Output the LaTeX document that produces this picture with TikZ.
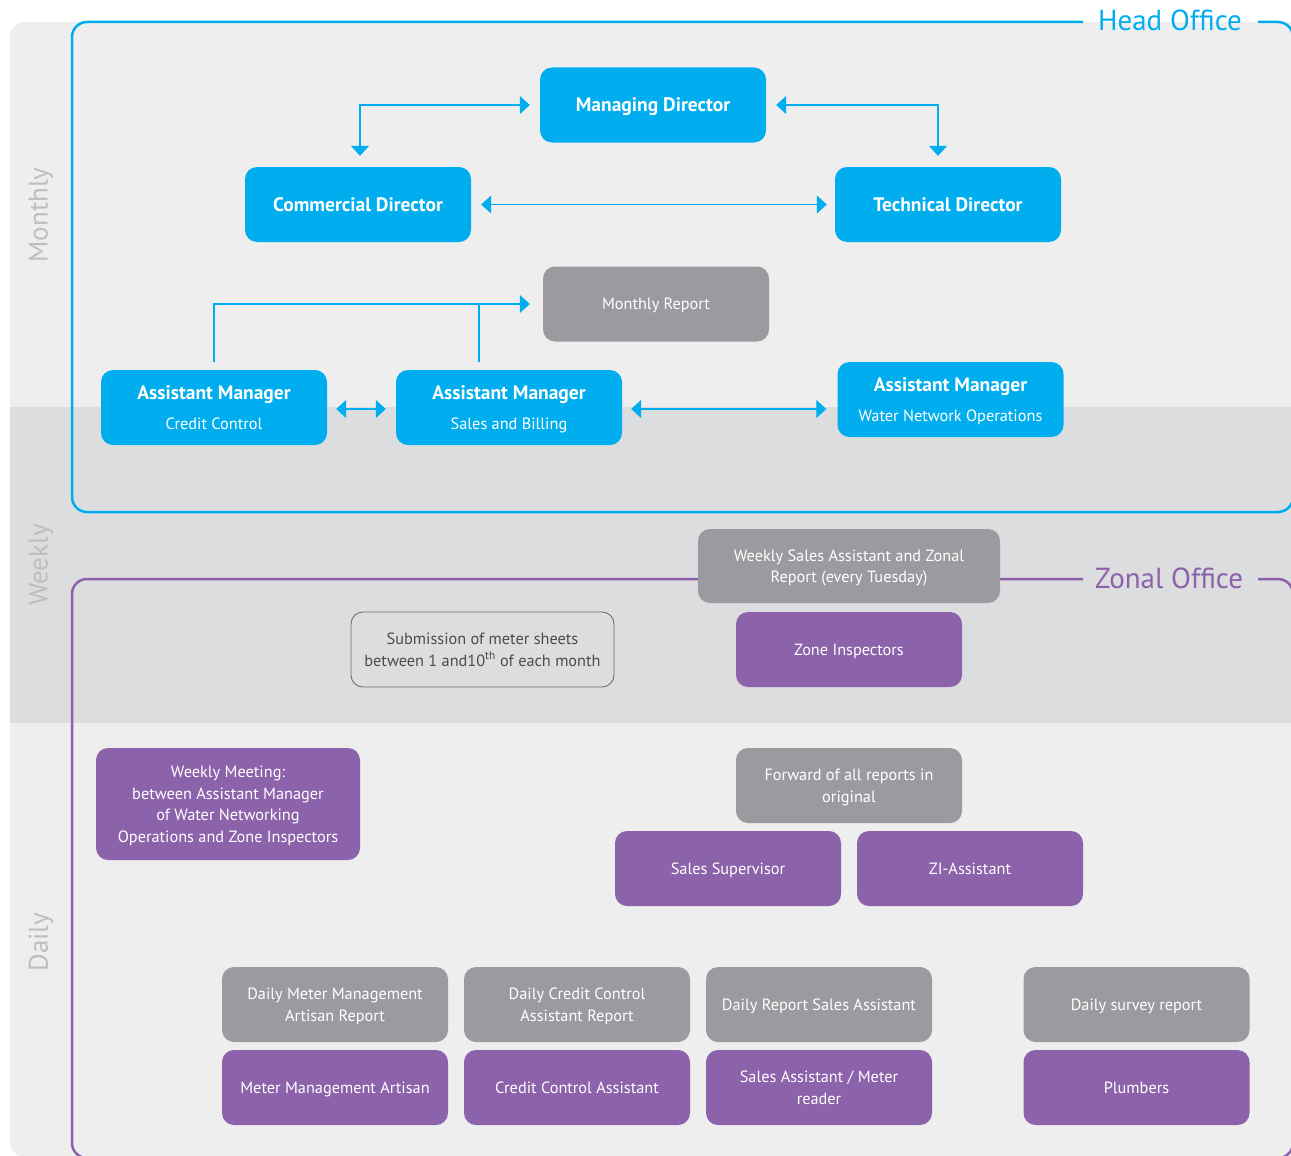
\documentclass[tikz,border=0pt]{standalone}
\usepackage{fontspec}
\setmainfont{PT Sans}
\usetikzlibrary{arrows.meta}
\definecolor{hoblue}{HTML}{00AEEF}
\definecolor{zopurple}{HTML}{8C62AA}
\definecolor{repgray}{HTML}{9A9B9F}
\definecolor{bgA}{HTML}{EEEEEE}
\definecolor{bgB}{HTML}{DCDDDF}
\definecolor{lblgray}{HTML}{BDBEC0}
\definecolor{subline}{HTML}{6D6E71}
\definecolor{subtext}{HTML}{4D4D4F}
\tikzset{
  box/.style={rounded corners=12pt, minimum width=226pt, minimum height=75pt, align=center, inner sep=2pt,
    text depth=-3pt, font=\fontsize{16.3}{21.5}\selectfont, text=white},
  bluebox/.style={box, fill=hoblue, font=\fontsize{19.5}{22}\selectfont\bfseries},
  ambox/.style={box, fill=hoblue},
  purplebox/.style={box, fill=zopurple},
  graybox/.style={box, fill=repgray},
  outlinebox/.style={box, draw=subline, line width=0.9pt, text=subtext},
  conn/.style={draw=hoblue, line width=1.2pt},
  tipA/.tip={Triangle[length=10pt,width=18pt]},
  frame/.style={line width=2.5pt, rounded corners=15pt},
  period/.style={rotate=90, text=lblgray, font=\fontsize{27}{28}\selectfont},
  office/.style={font=\fontsize{29}{30}\selectfont}
}
\newcommand{\amtitle}[1]{{\fontsize{19.5}{22}\selectfont\bfseries #1}}
\begin{document}
\begin{tikzpicture}[x=1pt,y=-1pt]
\useasboundingbox (0,0) rectangle (1291,1156);
\clip (0,0) rectangle (1291,1156);
% background bands
\fill[bgA, rounded corners=15pt] (10,22) rectangle (1320,1157);
\fill[bgB] (10,407) rectangle (1291,723);
% period labels
\node[period] (lmonthly) at (41,215) {Monthly};
\node[period] (lweekly) at (41,565) {Weekly};
\node[period] (ldaily) at (41,942) {Daily};
% frames
\draw[frame, draw=hoblue] (1083,22) -- (72,22) -- (72,512) -- (1293,512) -- (1293,22) -- (1258,22);
\node[office, text=hoblue] (headoffice) at (1170,20) {Head Office};
\draw[frame, draw=zopurple] (1083,579) -- (72,579) -- (72,1158) -- (1293,1158) -- (1293,579) -- (1258,579);
\node[office, text=zopurple] (zonaloffice) at (1169,578) {Zonal Office};
% head office nodes
\node[bluebox] (md) at (653,105) {Managing Director};
\node[bluebox] (cd) at (358,204.5) {Commercial Director};
\node[bluebox] (td) at (948,204.5) {Technical Director};
\node[graybox] (mr) at (656,304) {Monthly Report};
\node[ambox] (amcc) at (214,407.5) {\amtitle{Assistant Manager}\\[8pt]Credit Control};
\node[ambox] (amsb) at (509,407.5) {\amtitle{Assistant Manager}\\[8pt]Sales and Billing};
\node[ambox] (wno) at (950.5,399.5) {\amtitle{Assistant Manager}\\[8pt]Water Network Operations};
% head office connectors
\draw[conn, {tipA}-{tipA}, shorten <=11pt, shorten >=10pt] ([xshift=2pt]cd.north) |- (md.west);
\draw[conn, {tipA}-{tipA}, shorten <=10pt, shorten >=11pt] (md.east) -| ([xshift=-10pt]td.north);
\draw[conn, {tipA}-{tipA}, shorten <=10pt, shorten >=8pt] (cd.east) -- (td.west);
\draw[conn, -{tipA}, shorten <=8pt, shorten >=13pt] (amcc.north) |- (mr.west);
\draw[conn, shorten <=8pt] ([xshift=-30pt]amsb.north) -- ([xshift=-30pt]amsb.north |- mr.west);
\draw[conn, {tipA}-{tipA}, shorten <=9pt, shorten >=10pt] ([yshift=-1.5pt]amcc.east) -- ([yshift=-1.5pt]amsb.west);
\draw[conn, {tipA}-{tipA}, shorten <=9pt, shorten >=11pt] ([yshift=-1.5pt]amsb.east) -- ([yshift=-1.5pt]amsb.east -| wno.west);
% zonal nodes
\node[graybox, minimum width=302pt, minimum height=74pt] (ws) at (849,566) {Weekly Sales Assistant and Zonal\\Report (every Tuesday)};
\node[outlinebox, minimum width=263pt] (sub) at (482.5,649.5) {Submission of meter sheets\\between 1 and10\textsuperscript{th} of each month};
\node[purplebox] (zi) at (849,649.5) {Zone Inspectors};
\node[purplebox, minimum width=264pt, minimum height=112pt] (wm) at (228,804) {Weekly Meeting:\\between Assistant Manager\\of Water Networking\\Operations and Zone Inspectors};
\node[graybox] (fw) at (849,785.5) {Forward of all reports in\\original};
\node[purplebox] (ss) at (728,868.5) {Sales Supervisor};
\node[purplebox] (zia) at (970,868.5) {ZI-Assistant};
\node[graybox] (d1) at (335,1004.5) {Daily Meter Management\\Artisan Report};
\node[graybox] (d2) at (577,1004.5) {Daily Credit Control\\Assistant Report};
\node[graybox] (d3) at (819,1004.5) {Daily Report Sales Assistant};
\node[graybox] (d4) at (1136.5,1004.5) {Daily survey report};
\node[purplebox] (p1) at (335,1087.5) {Meter Management Artisan};
\node[purplebox] (p2) at (577,1087.5) {Credit Control Assistant};
\node[purplebox] (p3) at (819,1087.5) {Sales Assistant / Meter\\reader};
\node[purplebox] (p4) at (1136.5,1087.5) {Plumbers};
\end{tikzpicture}
\end{document}
